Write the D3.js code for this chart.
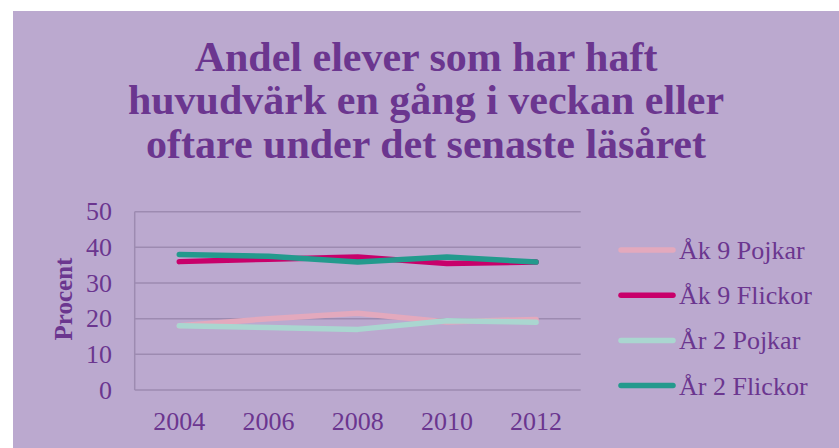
<!DOCTYPE html>
<html lang="sv">
<head>
<meta charset="UTF-8">
<title>Huvudvärk</title>
<script src="https://d3js.org/d3.v7.min.js"></script>
<style>
  body { margin: 0; background: #fff; }
  text { font-family: "Liberation Serif", "Times New Roman", serif; fill: #6b368f; }
</style>
</head>
<body>
<div id="chart"></div>
<script>
// data
var years = ["2004", "2006", "2008", "2010", "2012"];
var seriesNames = ["Åk 9 Pojkar", "Åk 9 Flickor", "År 2 Pojkar", "År 2 Flickor"];
var ak9Pojkar  = [18.0, 20.0, 21.5, 19.1, 19.8];
var ak9Flickor = [36.0, 36.7, 37.3, 35.5, 35.9];
var ar2Pojkar  = [18.0, 17.5, 17.0, 19.4, 19.0];
var ar2Flickor = [38.0, 37.5, 35.9, 37.3, 35.9];
var yTicks = [0, 10, 20, 30, 40, 50];
var titleLines = ["Andel elever som har haft", "huvudvärk en gång i veckan eller", "oftare under det senaste läsåret"];

var colors = ["#e3a9bd", "#c8006b", "#aad6d0", "#239a8d"];
var seriesValues = [ak9Pojkar, ak9Flickor, ar2Pojkar, ar2Flickor];

var W = 839, H = 448;
var plot = {left: 134.7, right: 580.7, top: 211.7, bottom: 390};

var svg = d3.select("#chart").append("svg")
    .attr("width", W).attr("height", H);

// purple backdrop
svg.append("rect")
    .attr("x", 13).attr("y", 11)
    .attr("width", W - 13).attr("height", H - 11)
    .attr("fill", "#bba9cf");

// title, three lines
var titleY = [71, 114, 158];
svg.selectAll(".title").data(titleLines).enter()
    .append("text")
    .attr("class", "title")
    .attr("x", 426)
    .attr("y", function(d, i) { return titleY[i]; })
    .attr("text-anchor", "middle")
    .style("font-size", "42px")
    .style("font-weight", "bold")
    .text(function(d) { return d; });

var x = d3.scalePoint().domain(years).range([plot.left, plot.right]).padding(0.5);
var y = d3.scaleLinear().domain([0, 50]).range([plot.bottom, plot.top]);

// gridlines
svg.selectAll(".grid").data(yTicks).enter()
    .append("line")
    .attr("x1", plot.left).attr("x2", plot.right)
    .attr("y1", function(d) { return y(d); })
    .attr("y2", function(d) { return y(d); })
    .attr("stroke", "#9d8bb1").attr("stroke-width", 1.5);

svg.append("line")
    .attr("x1", plot.left).attr("x2", plot.left)
    .attr("y1", y(50)).attr("y2", y(0))
    .attr("stroke", "#9d8bb1").attr("stroke-width", 1.5);

// y tick labels
svg.selectAll(".ytick").data(yTicks).enter()
    .append("text")
    .attr("x", 112)
    .attr("y", function(d) { return y(d) + 8.7; })
    .attr("text-anchor", "end")
    .style("font-size", "26px")
    .text(function(d) { return d; });

// x tick labels
svg.selectAll(".xtick").data(years).enter()
    .append("text")
    .attr("x", function(d) { return x(d); })
    .attr("y", 429.5)
    .attr("text-anchor", "middle")
    .style("font-size", "26px")
    .text(function(d) { return d; });

// axis title
svg.append("text")
    .attr("transform", "translate(72,299) rotate(-90)")
    .attr("text-anchor", "middle")
    .style("font-size", "25px")
    .style("font-weight", "bold")
    .text("Procent");

// lines
var line = d3.line()
    .x(function(d, i) { return x(years[i]); })
    .y(function(d) { return y(d); });

seriesValues.forEach(function(vals, k) {
    svg.append("path")
        .attr("d", line(vals))
        .attr("fill", "none")
        .attr("stroke", colors[k])
        .attr("stroke-width", 5.5)
        .attr("stroke-linejoin", "round")
        .attr("stroke-linecap", "round");
});

// legend
var lg = svg.selectAll(".legend").data(seriesNames).enter()
    .append("g")
    .attr("transform", function(d, i) { return "translate(0," + (250 + i * 45.2) + ")"; });
lg.append("line")
    .attr("x1", 621).attr("x2", 673)
    .attr("stroke", function(d, i) { return colors[i]; })
    .attr("stroke-width", 5.5)
    .attr("stroke-linecap", "round");
lg.append("text")
    .attr("x", 679).attr("y", 9)
    .style("font-size", "26px")
    .text(function(d) { return d; });
</script>
</body>
</html>
